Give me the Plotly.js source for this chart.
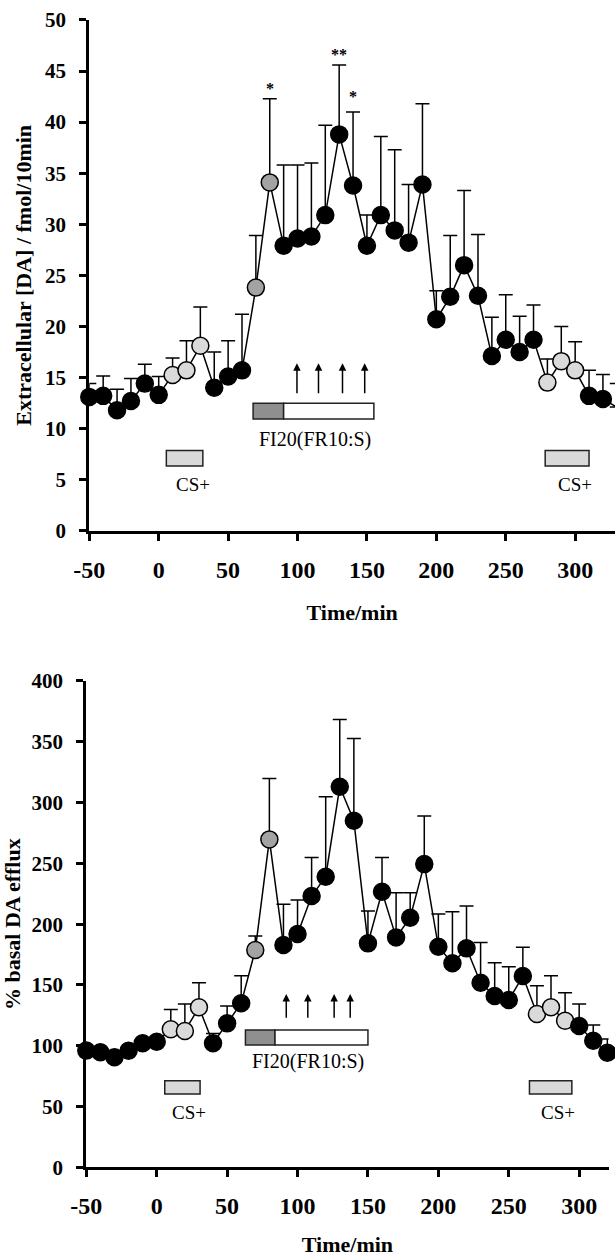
<!DOCTYPE html>
<html><head><meta charset="utf-8">
<script src="https://cdn.plot.ly/plotly-3.0.1.min.js"></script>
<style>html,body{margin:0;padding:0;background:#fff;} #chart{width:615px;height:1257px;}</style>
</head><body><div id="chart"></div>
<script>
// ---------- data: top panel (extracellular DA, fmol/10min) ----------
const timeTop = [-50,-40,-30,-20,-10,0,10,20,30,40,50,60,70,80,90,100,110,120,130,140,150,160,170,180,190,200,210,220,230,240,250,260,270,280,290,300,310,320,330];
const daTop = [13.1,13.2,11.8,12.7,14.4,13.3,15.25,15.7,18.1,14.0,15.1,15.7,23.8,34.1,27.9,28.6,28.8,30.9,38.8,33.8,27.9,30.9,29.4,28.2,33.9,20.7,22.9,26.0,23.0,17.1,18.7,17.5,18.7,14.5,16.6,15.7,13.2,12.9,12.1];
const daTopUpper = [14.4,15.15,13.85,14.9,16.3,15.1,16.9,18.6,21.9,17.5,18.6,21.2,28.9,42.3,35.8,35.8,36.0,39.7,45.6,41.0,30.9,38.6,37.3,33.9,41.8,23.5,28.9,33.3,29.0,20.9,23.1,21.0,22.1,16.8,20.0,18.5,15.7,15.3,14.4];
const phaseTop = ["base","base","base","base","base","base","cs","cs","cs","base","base","base","fi","fi","base","base","base","base","base","base","base","base","base","base","base","base","base","base","base","base","base","base","base","cs","cs","cs","base","base","base"];

// ---------- data: bottom panel (% basal DA efflux) ----------
const timeBot = [-50,-40,-30,-20,-10,0,10,20,30,40,50,60,70,80,90,100,110,120,130,140,150,160,170,180,190,200,210,220,230,240,250,260,270,280,290,300,310,320];
const pctBot = [96,94.6,90.5,95.9,102,103.3,113.5,112.1,131.6,102,118.4,134.9,178.7,269.7,182.8,191.9,223.1,239,313,285,184.2,226.7,189.1,205.3,249.4,181.4,167.8,180.1,151.8,140.9,137.6,157.3,126.1,131.6,120.6,116.2,104.1,94.2];
const pctBotUpper = [99,97.6,93.5,98.9,105,106.3,129.9,134.3,151.8,110,132.6,157.6,190.2,319.9,216.3,219.8,254.9,304.8,368.4,352.8,210.8,254.9,225.8,225.8,288.9,208.3,210.2,214.9,185,168.3,165,180.9,149.3,157.6,143.6,134.3,117,105.5];
const phaseBot = ["base","base","base","base","base","base","cs","cs","cs","base","base","base","fi","fi","base","base","base","base","base","base","base","base","base","base","base","base","base","base","base","base","base","base","cs","cs","cs","base","base","base"];

// ---------- tick labels ----------
const timeTicks = [-50,0,50,100,150,200,250,300];
const timeTickText = ["-50","0","50","100","150","200","250","300"];

// ---------- event annotations ----------
const csTop = [[5.5,31.8],[278.4,310]];
const csBot = [[5.7,30.8],[264.7,294.8]];
const fiTop = [68, 90, 155];   // start, end of first phase, end
const fiBot = [63, 84, 150];
const leverTop = [99.6,115.1,132.4,148.4];
const leverBot = [92,107.3,126,137.4];
const starsTop = [[80,"*"],[130,"**"],[140,"*"]];
const starsTopY = [43.3,46.6,42.5];

const phaseColor = {base:"#000000", cs:"#dadada", fi:"#a3a3a3"};
const serif = "Liberation Serif, Times New Roman, serif";

function series(x, y, up, ph, xa, ya){
  return {
    x:x, y:y, xaxis:xa, yaxis:ya, type:"scatter", mode:"lines+markers",
    cliponaxis:false,
    line:{color:"#000", width:1.5},
    marker:{size:17, color:ph.map(p=>phaseColor[p]), line:{color:"#000", width:1.5}},
    error_y:{type:"data", symmetric:false, array:up.map((u,i)=>u-y[i]), arrayminus:y.map(()=>0),
             color:"#000", thickness:1.5, width:7},
    showlegend:false, hoverinfo:"x+y"
  };
}

const traces = [
  series(timeTop, daTop, daTopUpper, phaseTop, "x", "y"),
  series(timeBot, pctBot, pctBotUpper, phaseBot, "x2", "y2")
];

const shapes = [];
const annotations = [];
function addBlocks(xr, yr, cs, csY, fi, fiY, levers, levY, fiTextY, csTextY, csTextDx){
  cs.forEach(c=>{
    shapes.push({type:"rect", xref:xr, yref:yr, x0:c[0], x1:c[1], y0:csY[0], y1:csY[1],
      fillcolor:"#d9d9d9", line:{color:"#222", width:1.5}});
    annotations.push({xref:xr, yref:yr, x:(c[0]+c[1])/2+csTextDx, y:csTextY, text:"CS+", showarrow:false,
      font:{family:serif, size:19, color:"#000"}});
  });
  shapes.push({type:"rect", xref:xr, yref:yr, x0:fi[0], x1:fi[1], y0:fiY[0], y1:fiY[1],
      fillcolor:"#8f8f8f", line:{color:"#222", width:1.5}});
  shapes.push({type:"rect", xref:xr, yref:yr, x0:fi[1], x1:fi[2], y0:fiY[0], y1:fiY[1],
      fillcolor:"#ffffff", line:{color:"#222", width:1.5}});
  annotations.push({xref:xr, yref:yr, x:(fi[0]+fi[2])/2+1, y:fiTextY, text:"FI20(FR10:S)", showarrow:false,
      font:{family:serif, size:20, color:"#000"}});
  levers.forEach(t=>{
    annotations.push({xref:xr, yref:yr, x:t, y:levY[1], ax:t, ay:levY[0], axref:xr, ayref:yr,
      text:"", showarrow:true, arrowhead:2, arrowsize:1, arrowwidth:1.5, arrowcolor:"#000", standoff:0, startstandoff:0});
  });
}
addBlocks("x","y", csTop, [6.34,7.84], fiTop, [10.94,12.48], leverTop, [13.3,16.4], 8.95, 4.5, 6);
addBlocks("x2","y2", csBot, [60.3,71.2], fiBot, [100.6,112.9], leverBot, [121.7,142.5], 86.8, 44.9, 5);
starsTop.forEach((s,i)=>{
  annotations.push({xref:"x", yref:"y", x:s[0], y:starsTopY[i], text:s[1], showarrow:false,
    font:{family:serif, size:16, color:"#000", weight:"bold"}});
});

const axisCommon = {
  showline:true, linewidth:3, linecolor:"#000", ticks:"outside", ticklen:7, tickwidth:3, tickcolor:"#000",
  showgrid:false, zeroline:false, fixedrange:true
};
const xTickFont = {family:serif, size:24, color:"#000", weight:"bold"};
const yTickFont = {family:serif, size:21, color:"#000", weight:"bold"};
const titleFont = {family:serif, size:22, color:"#000", weight:"bold"};

const layout = {
  width:615, height:1257,
  margin:{l:80, r:0, t:10, b:10},
  paper_bgcolor:"#fff", plot_bgcolor:"rgba(0,0,0,0)",
  font:{family:serif, color:"#000"},
  xaxis:Object.assign({}, axisCommon, {domain:[0.01738,1], range:[-50,328.7], tickmode:"array",
    tickvals:timeTicks, ticktext:timeTickText, ticklabelstandoff:8,
    anchor:"y", tickfont:xTickFont, title:{text:"Time/min", font:titleFont, standoff:24}}),
  yaxis:Object.assign({}, axisCommon, {domain:[0.57906,0.99192], range:[0,50], dtick:5, ticklabelstandoff:9,
    anchor:"x", tickfont:yTickFont, title:{text:"Extracellular [DA] / fmol/10min", font:titleFont, standoff:8}}),
  xaxis2:Object.assign({}, axisCommon, {domain:[0.01178,0.98804], range:[-50,320.9], tickmode:"array",
    tickvals:timeTicks, ticktext:timeTickText, ticklabelstandoff:8,
    anchor:"y2", tickfont:xTickFont, title:{text:"Time/min", font:titleFont, standoff:23}}),
  yaxis2:Object.assign({}, axisCommon, {domain:[0.06443,0.45756], range:[0,400], dtick:50, ticklabelstandoff:9,
    anchor:"x2", tickfont:yTickFont, title:{text:"% basal DA efflux", font:titleFont, standoff:6}}),
  shapes:shapes, annotations:annotations
};

Plotly.newPlot("chart", traces, layout, {displayModeBar:false, staticPlot:true});
</script>
</body></html>
